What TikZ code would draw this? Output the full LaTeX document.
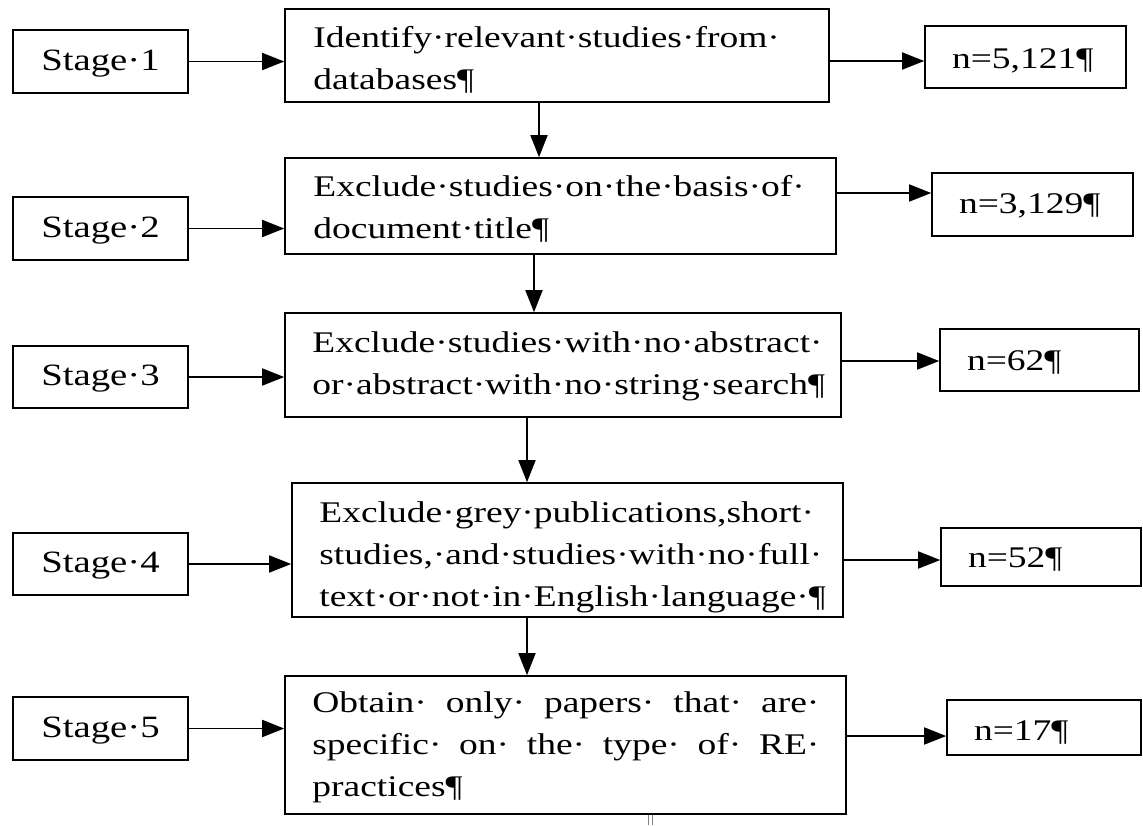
\documentclass[tikz,border=0pt]{standalone}
\usepackage{fontspec}
\setmainfont{Liberation Serif}[FakeStretch=1.25]
\usetikzlibrary{arrows.meta,calc}
\tikzset{
  box/.style={draw, line width=1.6pt, rectangle, inner sep=0pt},
  stagebox/.style={box, font=\fontsize{31}{40}\selectfont, text height=23pt, text depth=6pt},
  nbox/.style={box, font=\fontsize{30}{40}\selectfont, align=left, inner xsep=27pt},
  maintext/.style={inner sep=0pt, anchor=north west, align=left, font=\fontsize{30}{42}\selectfont},
  arr/.style={line width=1.7pt, -{Triangle[length=22pt,width=17pt]}}
}
\newcommand{\fs}{\rule{0pt}{21pt}}
\begin{document}
\begin{tikzpicture}[x=1pt,y=-1pt]
\useasboundingbox[fill=white] (0,0) rectangle (1143,825);
% stage boxes
\node[stagebox, minimum width=175pt, minimum height=63pt] (s1) at (100.5,61.5) {Stage·1};
\node[stagebox, minimum width=175pt, minimum height=63pt] (s2) at (100.5,228.5) {Stage·2};
\node[stagebox, minimum width=175pt, minimum height=62pt] (s3) at (100.5,377) {Stage·3};
\node[stagebox, minimum width=175pt, minimum height=62pt] (s4) at (100.5,564) {Stage·4};
\node[stagebox, minimum width=175pt, minimum height=63pt] (s5) at (100.5,728.5) {Stage·5};
% main boxes
\node[box, minimum width=544pt, minimum height=93pt] (b1) at (557,55.5) {};
\node[box, minimum width=551pt, minimum height=96pt] (b2) at (560.5,206) {};
\node[box, minimum width=556pt, minimum height=104pt] (b3) at (563,365) {};
\node[box, minimum width=551pt, minimum height=134pt] (b4) at (567.5,550) {};
\node[box, minimum width=561pt, minimum height=138pt] (b5) at (565.5,745) {};
% main texts
\node[maintext] (t1) at ($(b1.north west)+(29,18)$) {\fs Identify·relevant·studies·from·\\databases¶};
\node[maintext] (t2) at ($(b2.north west)+(29,18)$) {\fs Exclude·studies·on·the·basis·of·\\document·title¶};
\node[maintext] (t3) at ($(b3.north west)+(28,19)$) {\fs Exclude·studies·with·no·abstract·\\or·abstract·with·no·string·search¶};
\node[maintext] (t4) at ($(b4.north west)+(28,19)$) {\fs Exclude·grey·publications,short·\\studies,·and·studies·with·no·full·\\text·or·not·in·English·language·¶};
\node[maintext, text width=507pt, align=justify] (t5) at ($(b5.north west)+(28,16)$) {\fs Obtain· only· papers· that· are·\linebreak specific· on· the· type· of· RE·\linebreak practices¶};
% n boxes
\node[nbox, text width=147pt, minimum height=62pt, text height=27pt, text depth=5pt] (n1) at (1025.5,57) {n=5,121¶};
\node[nbox, text width=147pt, minimum height=63pt, text height=24pt, text depth=7pt] (n2) at (1032.5,204.5) {n=3,129¶};
\node[nbox, text width=145pt, minimum height=62pt, text height=26pt, text depth=6pt] (n3) at (1039.5,360) {n=62¶};
\node[nbox, text width=146pt, minimum height=58pt, text height=26pt, text depth=6pt] (n4) at (1041,557) {n=52¶};
\node[nbox, text width=140pt, minimum height=55pt, text height=28pt, text depth=3pt] (n5) at (1044,727.5) {n=17¶};
% helper coordinates
\coordinate (d1) at (539,0);
\coordinate (d2) at (534,0);
\coordinate (d3) at (527,0);
\coordinate (d4) at (527,0);
\coordinate (e1) at (0,61);
\coordinate (e2) at (0,193);
\coordinate (e3) at (0,361);
\coordinate (e4) at (0,560);
\coordinate (e5) at (0,736);
% stage arrows
\foreach \i in {1,...,5} {
  \draw[arr] (s\i.east) -- (s\i.east -| b\i.west);
}
% n arrows
\foreach \i in {1,...,5} {
  \draw[arr] (b\i.east |- e\i) -- (n\i.west |- e\i);
}
% down arrows
\draw[arr] (b1.south -| d1) -- (b2.north -| d1);
\draw[arr] (b2.south -| d2) -- (b3.north -| d2);
\draw[arr] (b3.south -| d3) -- (b4.north -| d3);
\draw[arr] (b4.south -| d4) -- (b5.north -| d4);
% trailing mark below last box
\draw[gray, line width=1pt] (648,815) -- (648,825) (652,815) -- (652,825);
\end{tikzpicture}
\end{document}
